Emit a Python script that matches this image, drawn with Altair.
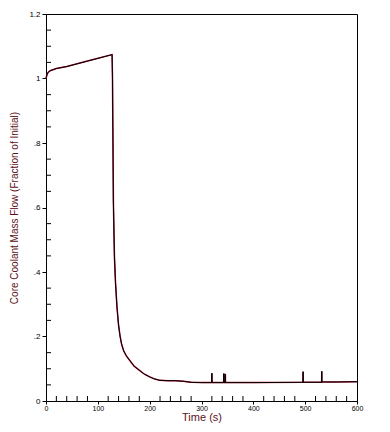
import altair as alt
import pandas as pd

# Core coolant mass flow, fraction of initial, vs time (s)
time_s = [0, 2, 4, 8, 20, 40, 80, 127.5, 128.3, 130, 132, 134, 137, 140, 143, 146, 150,
          155, 162, 170, 181, 190, 200, 210, 220, 235, 250, 265, 280, 300,
          319.8, 320, 320.2, 342.8, 343, 343.3, 345.6, 346, 346.3,
          400, 495.8, 496, 496.2, 531.8, 532, 532.2, 560, 600]
flow = [1.0, 1.012, 1.019, 1.024, 1.031, 1.037, 1.054, 1.074, 1.0, 0.62, 0.45, 0.37,
        0.29, 0.235, 0.2, 0.175, 0.155, 0.14, 0.125, 0.108, 0.094, 0.083, 0.075,
        0.068, 0.064, 0.063, 0.063, 0.061, 0.058, 0.057,
        0.057, 0.086, 0.057, 0.057, 0.085, 0.057, 0.057, 0.084, 0.057,
        0.057, 0.058, 0.091, 0.058, 0.058, 0.092, 0.059, 0.059, 0.06]

x_major = [0, 100, 200, 300, 400, 500, 600]
x_minor = [t for t in range(20, 600, 20) if t % 100 != 0]
y_major = [0, 0.2, 0.4, 0.6, 0.8, 1.0, 1.2]
y_minor = [round(0.05 * k, 2) for k in range(1, 24) if k % 4 != 0]

W, H = 311, 387
FONT = "Liberation Sans"
TITLE_COLOR = "#5c1020"

df = pd.DataFrame({"t": time_s, "v": flow})
xm = pd.DataFrame({"t": x_minor})
ym = pd.DataFrame({"v": y_minor})

xscale = alt.Scale(domain=[0, 600], nice=False, zero=False)
yscale = alt.Scale(domain=[0, 1.2], nice=False)

label_expr = "datum.value == 0 ? '0' : datum.value == 1 ? '1' : replace(format(datum.value, '.1f'), /^0/, '')"

x_enc = alt.X("t:Q", scale=xscale, axis=alt.Axis(
    values=x_major, title="Time   (s)", titleColor=TITLE_COLOR, titleFont=FONT,
    titleFontSize=11, titleFontWeight="normal", titlePadding=0,
    labelFont=FONT, labelFontSize=7, labelColor="black", labelPadding=0,
    tickSize=3, tickColor="black", domainColor="black", grid=False, labelFlush=False))
y_enc = alt.Y("v:Q", scale=yscale, axis=alt.Axis(
    values=y_major, labelExpr=label_expr,
    title="Core Coolant Mass Flow (Fraction of Initial)", titleColor=TITLE_COLOR,
    titleFont=FONT, titleFontSize=10, titleFontWeight="normal", titlePadding=9,
    labelFont=FONT, labelFontSize=8, labelColor="black", labelPadding=2,
    tickSize=4, tickColor="black", domainColor="black", grid=False, labelFlush=False))

red_line = alt.Chart(df).mark_line(color="#b01030", strokeWidth=1.5, interpolate="linear").encode(x=x_enc, y=y_enc)
black_line = alt.Chart(df).mark_line(color="black", strokeWidth=1.0).encode(
    x=alt.X("t:Q", scale=xscale), y=alt.Y("v:Q", scale=yscale))

xticks = alt.Chart(xm).mark_rule(color="black", strokeWidth=1).encode(
    x=alt.X("t:Q", scale=xscale), y=alt.value(H), y2=alt.value(H - 5))
yticks = alt.Chart(ym).mark_rule(color="black", strokeWidth=1).encode(
    y=alt.Y("v:Q", scale=yscale), x=alt.value(0), x2=alt.value(5))

chart = alt.layer(red_line, black_line, xticks, yticks).properties(
    width=W, height=H,
    autosize=alt.AutoSizeParams(type="none"),
    padding={"left": 38, "top": 6, "right": 24, "bottom": 22},
    background="white",
).configure_view(stroke="black", strokeWidth=1, strokeOpacity=1)

chart.save("out.html", embed_options={"renderer": "svg", "actions": False})
